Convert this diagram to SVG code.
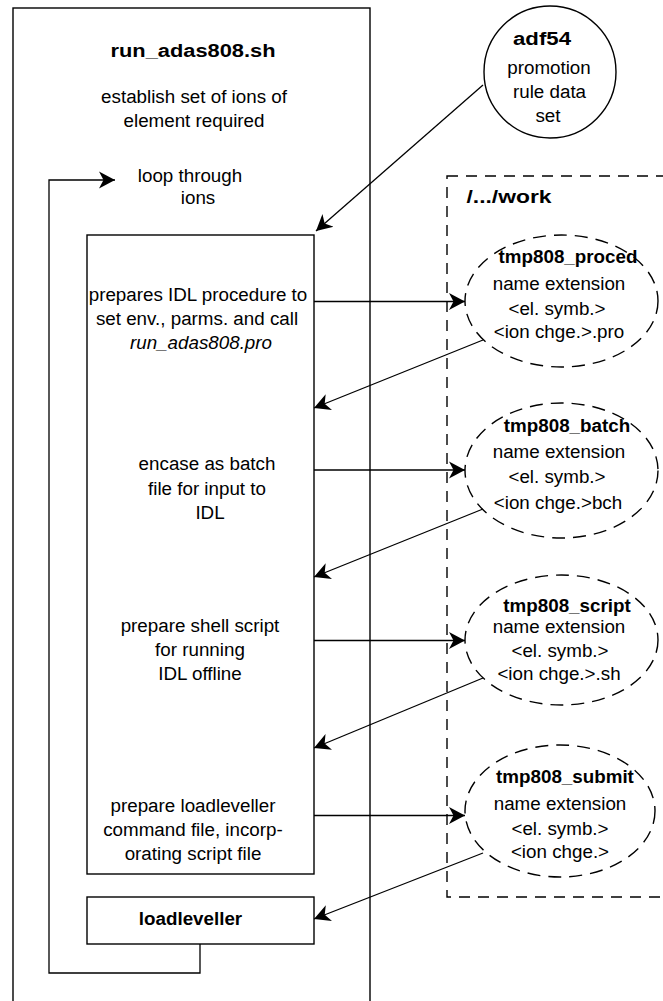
<svg xmlns="http://www.w3.org/2000/svg" width="663" height="1001" viewBox="0 0 663 1001">
  <style>
    .box { fill: none; stroke: #000; stroke-width: 1.4; }
    .dash { fill: none; stroke: #000; stroke-width: 1.4; stroke-dasharray: 11 8; }
    .edash { fill: none; stroke: #000; stroke-width: 1.4; stroke-dasharray: 13 8; }
    .conn { fill: none; stroke: #000; stroke-width: 1.3; }
    text { font-family: "Liberation Sans", Arial, sans-serif; font-size: 18.8px; fill: #000; text-anchor: middle; }
    .b { font-weight: bold; }
    .i { font-style: italic; }
  </style>
  <defs>
    <marker id="arrow" viewBox="0 0 16 18" refX="16" refY="9" markerWidth="16" markerHeight="18" markerUnits="userSpaceOnUse" orient="auto">
      <path d="M0,0.5 L16,9 L0,17.5 L4.5,9 z" fill="#000"/>
    </marker>
  </defs>

  <rect width="663" height="1001" fill="#fff"/>

  <!-- main shell script frame -->
  <g id="run-adas808">
    <rect class="box" x="13" y="8" width="357" height="1010"/>
    <text class="b" x="193" y="57" font-size="20" textLength="165" lengthAdjust="spacingAndGlyphs">run_adas808.sh</text>
    <text x="194" y="103">establish set of ions of</text>
    <text x="194" y="127">element required</text>
    <text x="190" y="182">loop through</text>
    <text x="198" y="204">ions</text>
  </g>

  <!-- per-ion processing steps -->
  <g id="steps">
    <rect class="box" x="87" y="235" width="227" height="639"/>
    <text x="198" y="301">prepares IDL procedure to</text>
    <text x="197" y="325">set env., parms. and call</text>
    <text class="i" x="201" y="349">run_adas808.pro</text>
    <text x="207" y="470">encase as batch</text>
    <text x="207" y="495">file for input to</text>
    <text x="210" y="519">IDL</text>
    <text x="200" y="632">prepare shell script</text>
    <text x="200" y="656">for running</text>
    <text x="200" y="680">IDL offline</text>
    <text x="193" y="812">prepare loadleveller</text>
    <text x="193" y="836">command file, incorp-</text>
    <text x="193" y="860">orating script file</text>
  </g>

  <g id="loadleveller">
    <rect class="box" x="87" y="897" width="227" height="47"/>
    <text class="b" x="190.5" y="925">loadleveller</text>
  </g>

  <!-- promotion rule data set -->
  <g id="adf54">
    <circle class="box" cx="550" cy="72" r="66"/>
    <text class="b" x="542" y="45" font-size="20" textLength="58" lengthAdjust="spacingAndGlyphs">adf54</text>
    <text x="549" y="74">promotion</text>
    <text x="549.5" y="98">rule data</text>
    <text x="548" y="122">set</text>
  </g>

  <!-- work directory -->
  <g id="work">
    <rect class="dash" x="447" y="176" width="240" height="721"/>
    <text class="b" x="509" y="203" font-size="20" textLength="85" lengthAdjust="spacingAndGlyphs">/.../work</text>
  </g>

  <g id="tmp808-proced">
    <ellipse class="edash" cx="561.5" cy="301" rx="96.5" ry="66"/>
    <text class="b" x="568" y="263">tmp808_proced</text>
    <text x="559" y="290">name extension</text>
    <text x="557" y="315">&lt;el. symb.&gt;</text>
    <text x="559" y="338">&lt;ion chge.&gt;.pro</text>
  </g>

  <g id="tmp808-batch">
    <ellipse class="edash" cx="561.5" cy="470.5" rx="96.5" ry="67.5"/>
    <text class="b" x="567" y="432">tmp808_batch</text>
    <text x="559" y="458">name extension</text>
    <text x="557" y="483">&lt;el. symb.&gt;</text>
    <text x="558" y="509">&lt;ion chge.&gt;bch</text>
  </g>

  <g id="tmp808-script">
    <ellipse class="edash" cx="561.5" cy="640" rx="96.5" ry="65"/>
    <text class="b" x="567" y="612">tmp808_script</text>
    <text x="559" y="633">name extension</text>
    <text x="560" y="657">&lt;el. symb.&gt;</text>
    <text x="559" y="680">&lt;ion chge.&gt;.sh</text>
  </g>

  <g id="tmp808-submit">
    <ellipse class="edash" cx="560" cy="811" rx="95" ry="66"/>
    <text class="b" x="565" y="783">tmp808_submit</text>
    <text x="560" y="810">name extension</text>
    <text x="560" y="835">&lt;el. symb.&gt;</text>
    <text x="560" y="858">&lt;ion chge.&gt;</text>
  </g>

  <!-- connectors -->
  <g id="connectors">
    <path class="conn" d="M200,944 V973 H49 V180 H115" marker-end="url(#arrow)"/>
    <path class="conn" d="M483,85 L316,231" marker-end="url(#arrow)"/>
    <path class="conn" d="M314,301.5 H465" marker-end="url(#arrow)"/>
    <path class="conn" d="M483,340 L314,408" marker-end="url(#arrow)"/>
    <path class="conn" d="M314,470 H465" marker-end="url(#arrow)"/>
    <path class="conn" d="M483,509 L314,577" marker-end="url(#arrow)"/>
    <path class="conn" d="M314,640.5 H465" marker-end="url(#arrow)"/>
    <path class="conn" d="M483,678 L314,748" marker-end="url(#arrow)"/>
    <path class="conn" d="M314,815.5 H465" marker-end="url(#arrow)"/>
    <path class="conn" d="M483,853 L314,919" marker-end="url(#arrow)"/>
  </g>
</svg>
